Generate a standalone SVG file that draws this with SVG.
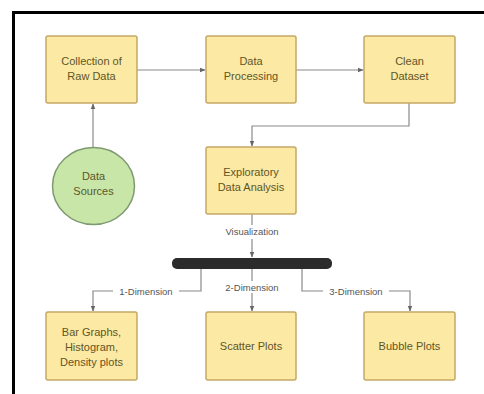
<svg xmlns="http://www.w3.org/2000/svg" width="484" height="394" viewBox="0 0 484 394">
<defs>
<style>
.box{fill:#fce9a3;stroke:#c4a866;stroke-width:1.5}
.circ{fill:#c7e6a8;stroke:#7f9a70;stroke-width:1.5}
.t{font-family:"Liberation Sans",Arial,sans-serif;font-size:11px;fill:#5f5628;text-anchor:middle}
.lbl{font-family:"Liberation Sans",Arial,sans-serif;font-size:9.5px;fill:#555;text-anchor:middle}
.e{fill:none;stroke:#8a8a8a;stroke-width:1.2}
</style>
<marker id="ah" viewBox="0 0 10 10" refX="9" refY="5" markerWidth="6" markerHeight="6" orient="auto" markerUnits="userSpaceOnUse">
<path d="M0,1 L10,5 L0,9 z" fill="#666"/>
</marker>
</defs>
<rect x="0" y="0" width="484" height="394" fill="#fff"/>
<path d="M13.5,394 V12.5 H484" fill="none" stroke="#000" stroke-width="3"/>
<g id="connectors">
<path class="e" d="M137,70 H205" marker-end="url(#ah)"/>
<path class="e" d="M296,70 H363" marker-end="url(#ah)"/>
<path class="e" d="M93,147 V104" marker-end="url(#ah)"/>
<path class="e" d="M409,103 V126 H252 V146" marker-end="url(#ah)"/>
<path class="e" d="M252,214 V225"/>
<path class="e" d="M252,239 V257" marker-end="url(#ah)"/>
<path class="e" d="M201,269 V291 H179"/>
<path class="e" d="M113,291 H93 V311" marker-end="url(#ah)"/>
<path class="e" d="M252,269 V281"/>
<path class="e" d="M252,293 V311" marker-end="url(#ah)"/>
<path class="e" d="M302,269 V291 H323"/>
<path class="e" d="M389,291 H410 V311" marker-end="url(#ah)"/>
<text class="lbl" x="252" y="235">Visualization</text>
<text class="lbl" x="146" y="294.5">1-Dimension</text>
<text class="lbl" x="252" y="290.5">2-Dimension</text>
<text class="lbl" x="356" y="294.5">3-Dimension</text>
</g>
<g id="n-collect"><rect class="box" x="46" y="36" width="91" height="67" rx="2"/><text class="t" x="91.5" y="65">Collection of</text><text class="t" x="91.5" y="80">Raw Data</text></g>
<g id="n-process"><rect class="box" x="206" y="36" width="90" height="67" rx="2"/><text class="t" x="251" y="65">Data</text><text class="t" x="251" y="80">Processing</text></g>
<g id="n-clean"><rect class="box" x="364" y="36" width="91" height="67" rx="2"/><text class="t" x="409.5" y="65">Clean</text><text class="t" x="409.5" y="80">Dataset</text></g>
<g id="n-sources"><ellipse class="circ" cx="93.5" cy="186" rx="41" ry="38.5"/><text class="t" x="93.5" y="180">Data</text><text class="t" x="93.5" y="195">Sources</text></g>
<g id="n-eda"><rect class="box" x="206" y="147" width="90" height="67" rx="2"/><text class="t" x="251" y="176">Exploratory</text><text class="t" x="251" y="191">Data Analysis</text></g>
<g id="n-bar"><rect x="172" y="258" width="160" height="11" rx="5" fill="#2b2b2b"/></g>
<g id="n-bar-graphs"><rect class="box" x="46" y="312" width="91" height="68" rx="2"/><text class="t" x="91.5" y="336">Bar Graphs,</text><text class="t" x="91.5" y="351">Histogram,</text><text class="t" x="91.5" y="366">Density plots</text></g>
<g id="n-scatter"><rect class="box" x="206" y="312" width="90" height="68" rx="2"/><text class="t" x="251" y="350">Scatter Plots</text></g>
<g id="n-bubble"><rect class="box" x="364" y="312" width="91" height="68" rx="2"/><text class="t" x="409.5" y="350">Bubble Plots</text></g>
</svg>
